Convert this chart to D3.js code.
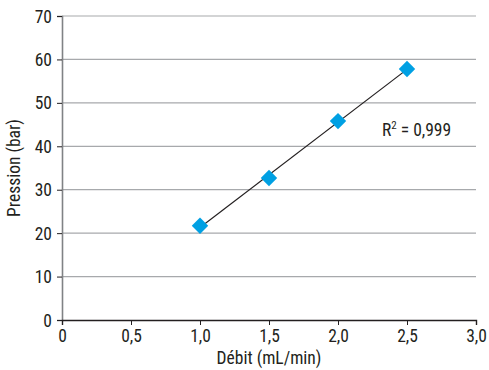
<!DOCTYPE html>
<html>
<head>
<meta charset="utf-8">
<script src="https://cdn.jsdelivr.net/npm/d3@7"></script>
<style>
  html, body { margin: 0; padding: 0; background: #fff; }
  svg text { font-family: "Liberation Sans Narrow", "Roboto Condensed", "Arial Narrow", sans-serif; fill: #231f20; }
</style>
</head>
<body>
<svg id="chart" width="489" height="370"></svg>
<script>
// Débit (mL/min) and measured pression (bar)
const debit = [1.0, 1.5, 2.0, 2.5];
const pression = [21.7, 32.7, 45.8, 57.8];
const xTicks = [0, 0.5, 1.0, 1.5, 2.0, 2.5, 3.0];
const yTicks = [0, 10, 20, 30, 40, 50, 60, 70];
const r2Label = "0,999";

const svg = d3.select("#chart");
const margin = { left: 62, right: 13, top: 16, bottom: 50 };
const W = 489, H = 370;
const fs = 17.5;

const x = d3.scaleLinear().domain([0, 3]).range([margin.left, W - margin.right]);
const y = d3.scaleLinear().domain([0, 70]).range([H - margin.bottom, margin.top]);
const fmt = d => d3.format(".1f")(d).replace(".", ",");

// horizontal gridlines
svg.append("g")
  .selectAll("line")
  .data(yTicks.filter(d => d > 0))
  .join("line")
  .attr("x1", x(0)).attr("x2", x(3))
  .attr("y1", d => y(d)).attr("y2", d => y(d))
  .attr("stroke", "#a7a9ac").attr("stroke-width", 1.2);

// y axis
const yAxis = svg.append("g")
  .attr("transform", `translate(${x(0)},0)`)
  .call(d3.axisLeft(y).tickValues(yTicks).tickSize(5).tickPadding(5).tickFormat(d3.format("d")));
yAxis.select(".domain").attr("stroke", "#808285").attr("stroke-width", 1.6);
yAxis.selectAll(".tick line").attr("stroke", "#231f20");
yAxis.selectAll("text").attr("font-size", fs).attr("dy", "0.35em");

// x axis
const xAxis = svg.append("g")
  .attr("transform", `translate(0,${y(0)})`)
  .call(d3.axisBottom(x).tickValues(xTicks).tickSize(5).tickPadding(5)
    .tickFormat(d => d === 0 ? "0" : fmt(d)));
xAxis.select(".domain").attr("stroke", "#231f20").attr("stroke-width", 1.4);
xAxis.selectAll(".tick line").attr("stroke", "#231f20");
xAxis.selectAll("text").attr("font-size", fs);

// least-squares trend line across the measured range
const mx = d3.mean(debit), my = d3.mean(pression);
const slope = d3.sum(debit, (d, i) => (d - mx) * (pression[i] - my)) /
              d3.sum(debit, d => (d - mx) * (d - mx));
const intercept = my - slope * mx;
const x0 = d3.min(debit), x1 = d3.max(debit);
svg.append("line")
  .attr("x1", x(x0)).attr("y1", y(intercept + slope * x0))
  .attr("x2", x(x1)).attr("y2", y(intercept + slope * x1))
  .attr("stroke", "#231f20").attr("stroke-width", 1.2);

// diamond markers
const diamond = d3.symbol().type(d3.symbolSquare).size(135);
svg.append("g")
  .selectAll("path")
  .data(debit.map((d, i) => [d, pression[i]]))
  .join("path")
  .attr("d", diamond)
  .attr("transform", d => `translate(${x(d[0])},${y(d[1])}) rotate(45)`)
  .attr("fill", "#00a0e3");

// R² annotation
const r2 = svg.append("text")
  .attr("x", 382).attr("y", 136)
  .attr("font-size", fs);
r2.append("tspan").text("R");
r2.append("tspan").attr("font-size", 11).attr("dy", -7).text("2");
r2.append("tspan").attr("dy", 7).text(" = " + r2Label);

// axis titles
svg.append("text")
  .attr("x", 269).attr("y", 364)
  .attr("text-anchor", "middle").attr("font-size", fs)
  .text("Débit (mL/min)");
svg.append("text")
  .attr("transform", `translate(20,${(y(0) + y(70)) / 2}) rotate(-90)`)
  .attr("text-anchor", "middle").attr("font-size", fs)
  .text("Pression (bar)");
</script>
</body>
</html>
